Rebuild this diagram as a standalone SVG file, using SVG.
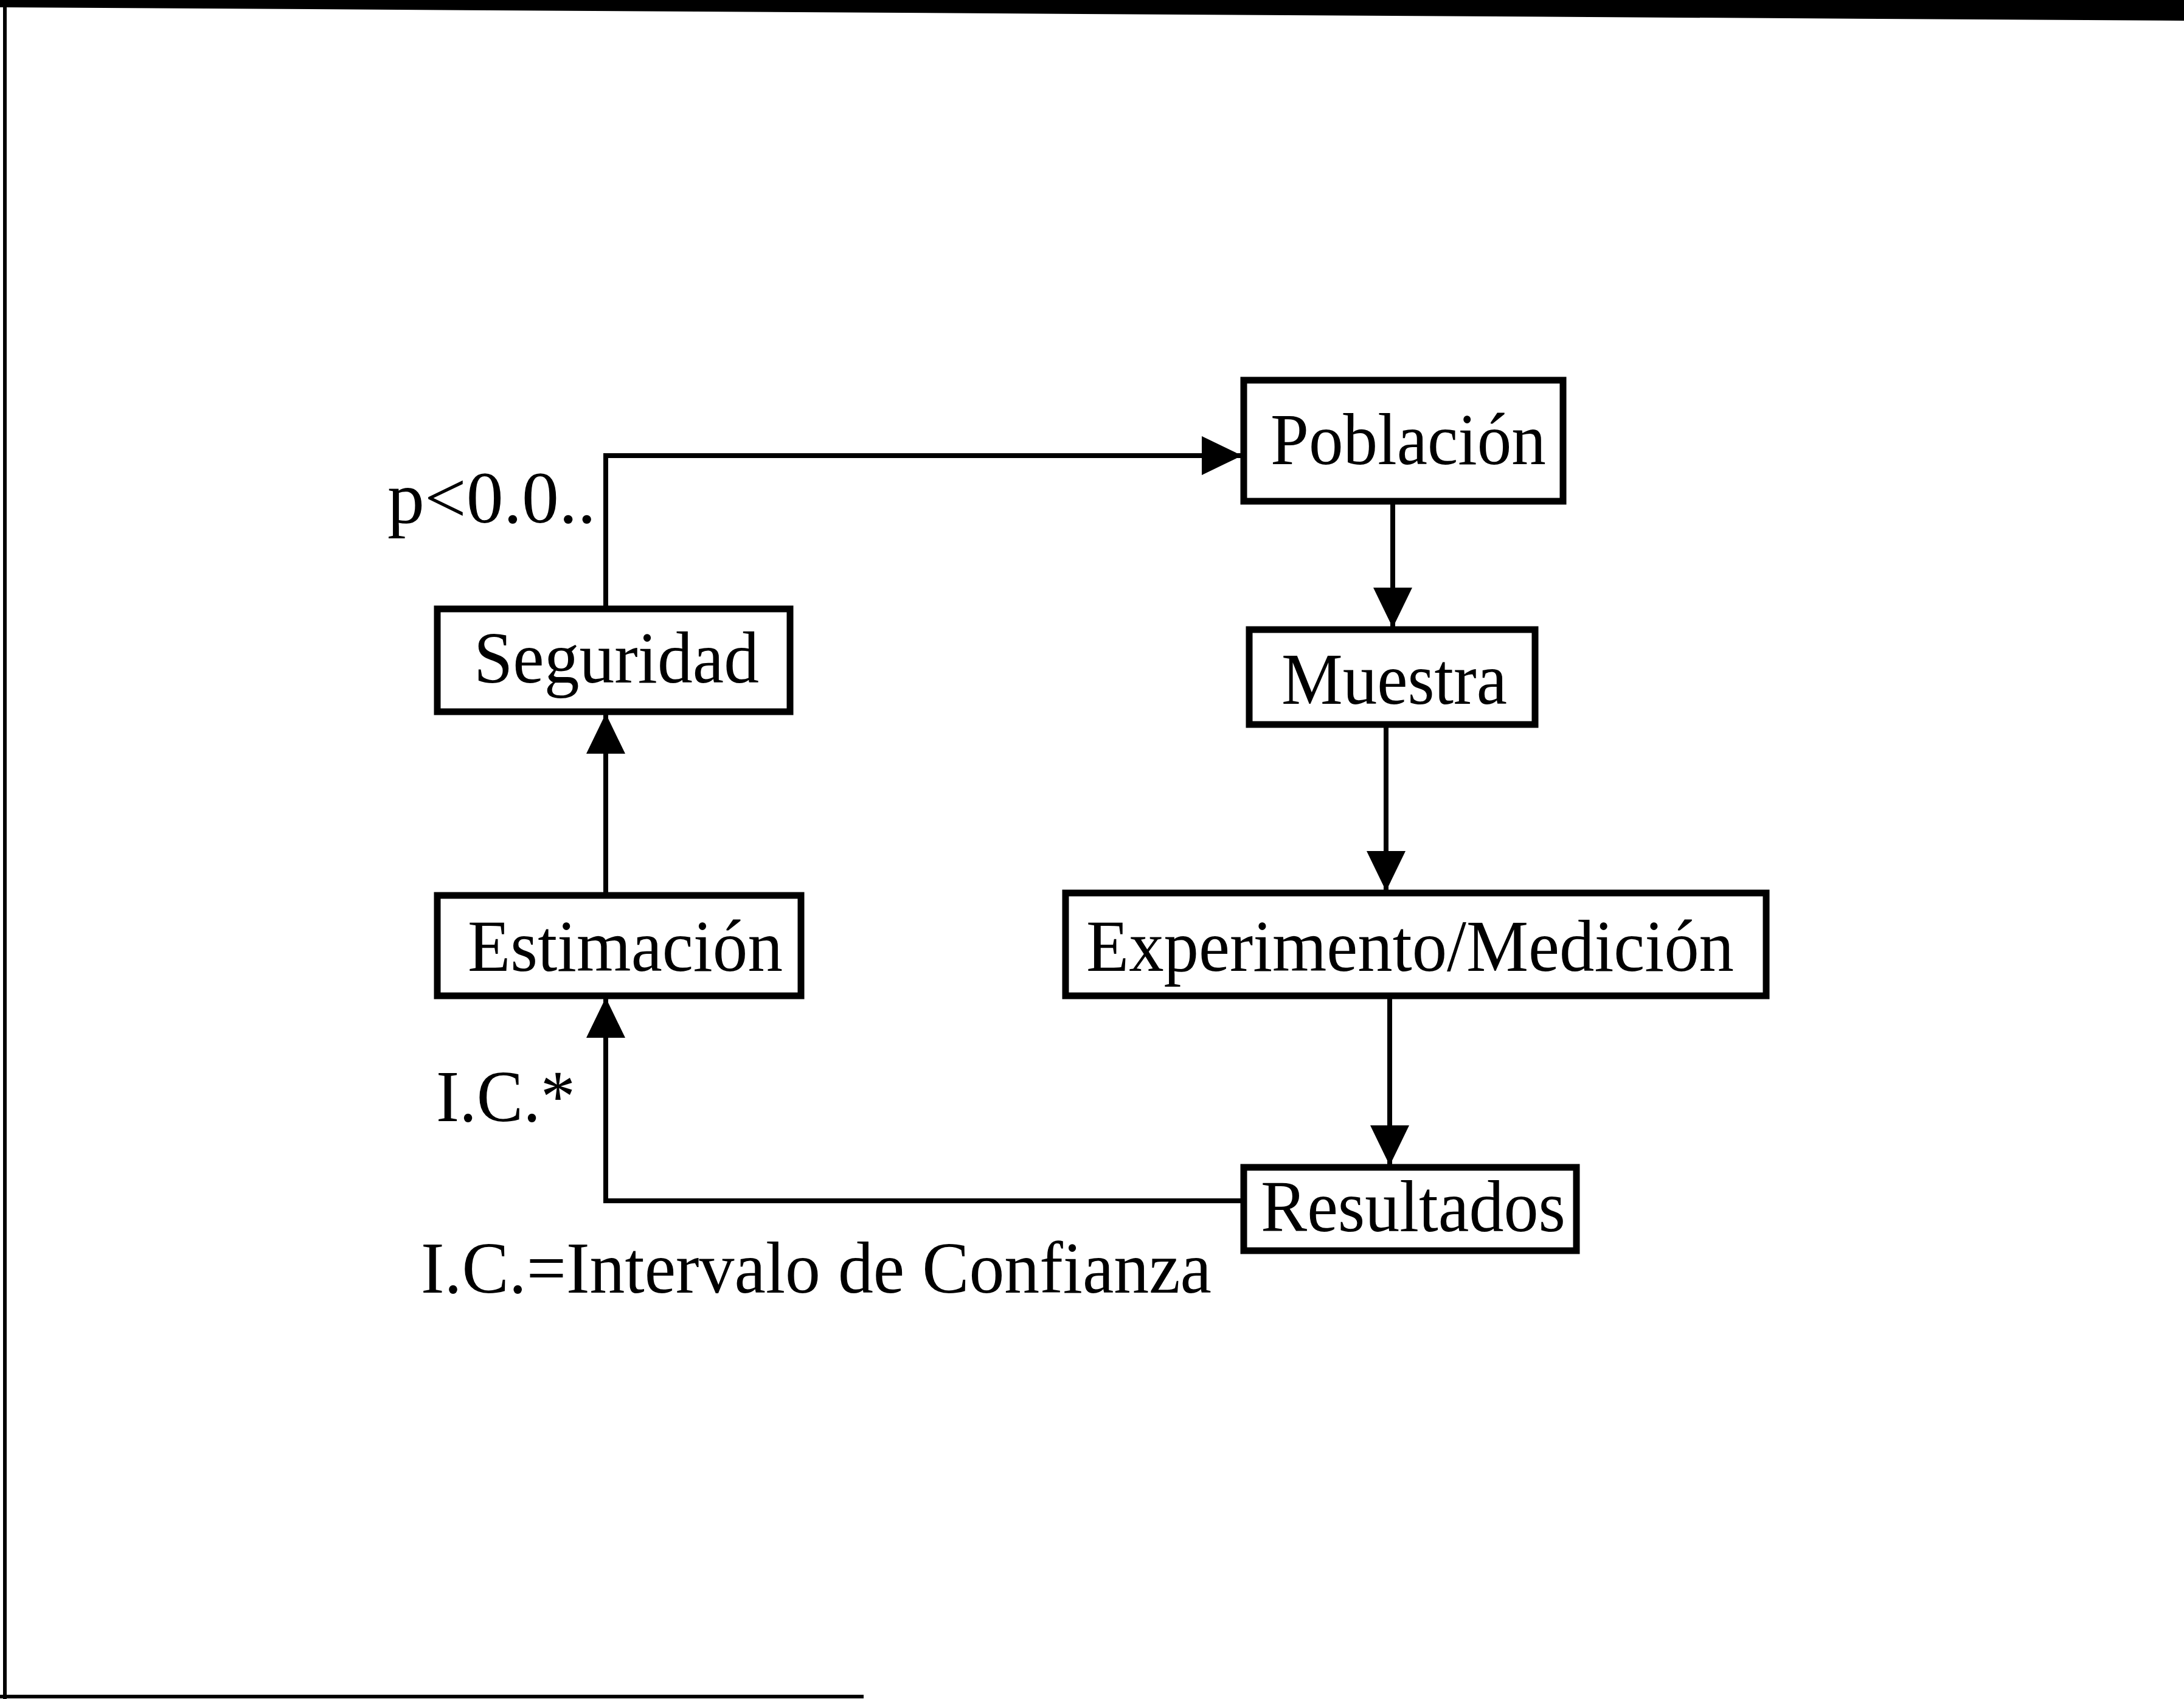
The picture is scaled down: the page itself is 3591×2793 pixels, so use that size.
<svg xmlns="http://www.w3.org/2000/svg" width="3591" height="2793" viewBox="0 0 3591 2793">
<style>
.box{fill:#fff;stroke:#000;stroke-width:11}
.t{font-family:"Liberation Serif","Times New Roman",serif;font-size:120px;fill:#000}
.c{fill:none;stroke:#000;stroke-width:8}
</style>
<defs>
<marker id="ah" markerUnits="userSpaceOnUse" markerWidth="70" markerHeight="70" refX="66" refY="35" orient="auto">
<path d="M0,3 L66,35 L0,67 Z" fill="#000"/>
</marker>
</defs>
<rect width="3591" height="2793" fill="#fff"/>
<polygon points="0,0 3591,0 3591,34 0,12" fill="#000"/>
<line x1="8" y1="0" x2="8" y2="2793" stroke="#000" stroke-width="6"/>
<line x1="0" y1="2789" x2="1420" y2="2789" stroke="#000" stroke-width="6"/>
<g id="connectors">
<path class="c" d="M996,1001 V749 H2042" marker-end="url(#ah)"/>
<path class="c" d="M2290,824 V1032" marker-end="url(#ah)"/>
<path class="c" d="M2279,1191 V1465" marker-end="url(#ah)"/>
<path class="c" d="M2285,1637 V1916" marker-end="url(#ah)"/>
<path class="c" d="M2045,1974 H996 V1640" marker-end="url(#ah)"/>
<path class="c" d="M996,1472 V1173" marker-end="url(#ah)"/>
</g>
<g id="poblacion"><rect class="box" x="2045" y="625" width="525" height="199"/><text class="t" x="2089" y="763" textLength="453" lengthAdjust="spacingAndGlyphs">Población</text></g>
<g id="muestra"><rect class="box" x="2054" y="1035" width="470" height="156"/><text class="t" x="2107" y="1157" textLength="371" lengthAdjust="spacingAndGlyphs">Muestra</text></g>
<g id="experimento"><rect class="box" x="1752" y="1468" width="1152" height="169"/><text class="t" x="1786" y="1596" textLength="1065" lengthAdjust="spacingAndGlyphs">Experimento/Medición</text></g>
<g id="resultados"><rect class="box" x="2045" y="1919" width="547" height="137"/><text class="t" x="2073" y="2024" textLength="501" lengthAdjust="spacingAndGlyphs">Resultados</text></g>
<g id="seguridad"><rect class="box" x="719" y="1001" width="580" height="169"/><text class="t" x="779" y="1122" textLength="469" lengthAdjust="spacingAndGlyphs">Seguridad</text></g>
<g id="estimacion"><rect class="box" x="719" y="1472" width="598" height="165"/><text class="t" x="769" y="1596" textLength="518" lengthAdjust="spacingAndGlyphs">Estimación</text></g>
<g id="labels">
<text class="t" x="637" y="859" textLength="343" lengthAdjust="spacingAndGlyphs">p&lt;0.0..</text>
<text class="t" x="717" y="1843" textLength="229" lengthAdjust="spacingAndGlyphs">I.C.*</text>
<text class="t" x="692" y="2125" textLength="1300" lengthAdjust="spacingAndGlyphs">I.C.=Intervalo de Confianza</text>
</g>
</svg>
